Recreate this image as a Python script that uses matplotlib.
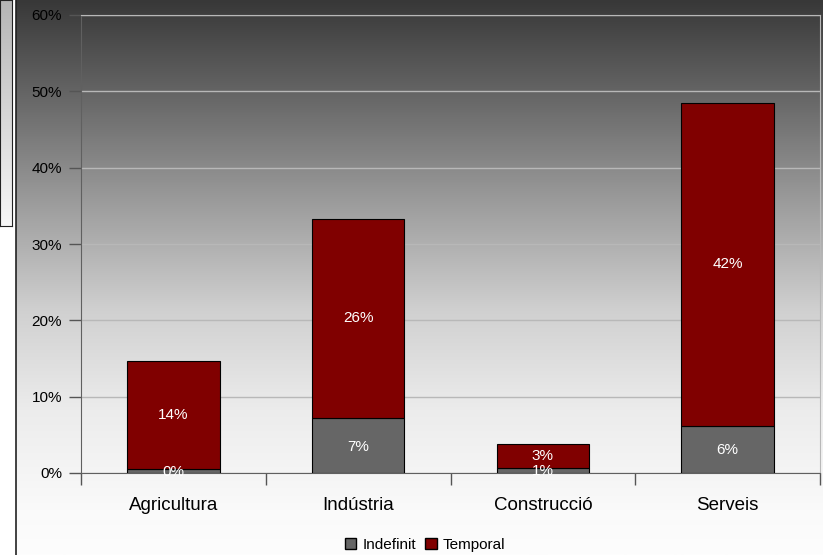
import matplotlib.pyplot as plt
import numpy as np
from matplotlib.colors import LinearSegmentedColormap
from matplotlib.patches import Patch
from matplotlib.lines import Line2D

plt.rcParams['font.family'] = ['Liberation Sans', 'DejaVu Sans']

# dades
sectors = ["Agricultura", "Indústria", "Construcció", "Serveis"]
indefinit = [0.5, 7.2, 0.7, 6.2]
temporal = [14.2, 26.1, 3.1, 42.3]
labels_indef = ["0%", "7%", "1%", "6%"]
labels_temp = ["14%", "26%", "3%", "42%"]

W, H = 823, 555
fig = plt.figure(figsize=(W / 100, H / 100), dpi=100)
fig.patch.set_facecolor('white')

# fons en degradat
grey = LinearSegmentedColormap.from_list('bg', [
    (0.0, '#383838'), (0.2, '#6e6e6e'), (0.38, '#a0a0a0'),
    (0.56, '#d0d0d0'), (0.74, '#ececec'), (0.92, '#fafafa'), (1.0, '#fdfdfd')])
bg = fig.add_axes([16 / W, 0, 1 - 16 / W, 1], zorder=-10)
bg.imshow(np.linspace(0, 1, 256).reshape(-1, 1), aspect='auto', cmap=grey,
          extent=[0, 1, 0, 1])
bg.axis('off')

# caixa de l'esquerra
box = fig.add_axes([0, 1 - 226 / H, 12 / W, 226 / H], zorder=-9)
box_cmap = LinearSegmentedColormap.from_list('box', ['#b4b4b4', '#f8f8f8'])
box.imshow(np.linspace(0, 1, 256).reshape(-1, 1), aspect='auto', cmap=box_cmap,
           extent=[0, 1, 0, 1])
box.set_xticks([])
box.set_yticks([])
for s in box.spines.values():
    s.set_color('#222222')
fig.add_artist(Line2D([15.5 / W, 15.5 / W], [0, 1], color='#222222', lw=1.2))

ax = fig.add_axes([81 / W, 1 - 473 / H, (820 - 81) / W, (473 - 15) / H])
ax.set_facecolor('none')

x = np.arange(len(sectors))
ax.bar(x, indefinit, 0.5, color='#666666', edgecolor='black', lw=0.8,
       label='Indefinit', zorder=3)
ax.bar(x, temporal, 0.5, bottom=indefinit, color='#800000',
       edgecolor='black', lw=0.8, label='Temporal', zorder=3)

for i in range(len(sectors)):
    ax.text(x[i], indefinit[i] / 2 - 0.15, labels_indef[i], ha='center',
            va='center', color='white', fontsize=11, zorder=4)
    ax.text(x[i], indefinit[i] + temporal[i] / 2, labels_temp[i], ha='center',
            va='center', color='white', fontsize=11, zorder=4)

ax.set_xlim(-0.5, 3.5)
ax.set_ylim(0, 60)
ax.set_yticks(range(0, 61, 10))
ax.set_yticklabels([f"{v}%" for v in range(0, 61, 10)], fontsize=11)
ax.tick_params(axis='y', length=8.6, width=1, color='#555555', pad=5)
ax.yaxis.grid(True, color='#b8b8b8', lw=1, zorder=0)

ax.set_xticks(np.arange(-0.5, 4, 1))
ax.set_xticklabels([])
ax.set_xticks(x, minor=True)
ax.set_xticklabels(sectors, minor=True, fontsize=13.5)
ax.tick_params(axis='x', which='major', length=8.6, width=1, color='#555555')
ax.tick_params(axis='x', which='minor', length=0, pad=17)

ax.spines['left'].set_color('#606060')
ax.spines['bottom'].set_color('#606060')
ax.spines['top'].set_color('#b8b8b8')
ax.spines['right'].set_color('#b8b8b8')

handles = [Patch(facecolor='#666666', edgecolor='black', label='Indefinit'),
           Patch(facecolor='#800000', edgecolor='black', label='Temporal')]
fig.legend(handles=handles, loc='center', bbox_to_anchor=(425 / W, 1 - 545 / H),
           ncol=2, frameon=False, fontsize=11, handlelength=0.75,
           handleheight=0.75, handletextpad=0.4, columnspacing=0.6)

fig.savefig('out.png', dpi=100)
